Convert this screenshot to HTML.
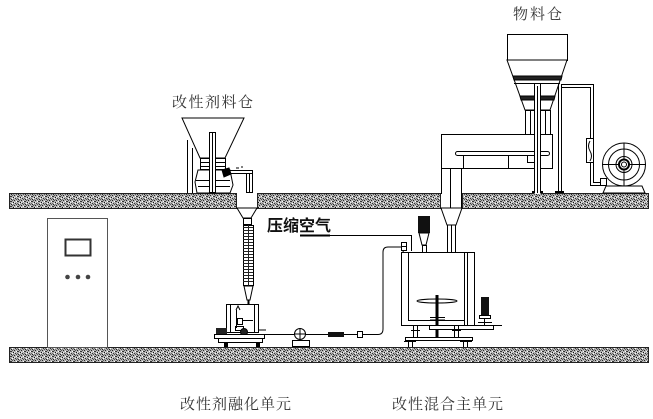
<!DOCTYPE html>
<html><head><meta charset="utf-8"><style>
html,body{margin:0;padding:0;background:#fff;}
svg{display:block;}
</style></head><body>
<svg width="653" height="419" viewBox="0 0 653 419" xmlns="http://www.w3.org/2000/svg">
<defs>
<pattern id="sp" width="7" height="5" patternUnits="userSpaceOnUse">
<rect width="7" height="5" fill="#b4b4b4"/>
<rect x="0" y="0" width="1" height="1" fill="#222"/>
<rect x="3" y="1" width="2" height="1" fill="#333"/>
<rect x="6" y="2" width="1" height="1" fill="#111"/>
<rect x="1" y="3" width="1" height="1" fill="#333"/>
<rect x="4" y="4" width="1" height="1" fill="#222"/>
<rect x="2" y="1" width="1" height="1" fill="#fff"/>
<rect x="5" y="3" width="1" height="1" fill="#fff"/>
<rect x="0" y="2" width="1" height="1" fill="#eee"/>
<rect x="2" y="4" width="1" height="1" fill="#555"/>
<rect x="5" y="0" width="1" height="1" fill="#555"/>
<rect x="3" y="3" width="1" height="1" fill="#666"/>
<rect x="6" y="4" width="1" height="1" fill="#777"/>
</pattern>
</defs>

<!-- slabs -->
<g stroke="#222" stroke-width="1" fill="url(#sp)">
<rect x="9.5" y="193.5" width="227" height="15"/>
<rect x="257.5" y="193.5" width="183" height="15"/>
<rect x="462.5" y="193.5" width="186" height="15"/>
<rect x="9.5" y="347.5" width="639" height="15"/>
</g>

<!-- texts -->
<g font-family="'Liberation Serif','Noto Serif CJK SC',serif" font-size="15" fill="#333">
<text x="513" y="19" letter-spacing="2">物料仓</text>
<text x="172" y="107" letter-spacing="1.5">改性剂料仓</text>
<text x="180" y="409" letter-spacing="1">改性剂融化单元</text>
<text x="392" y="409" letter-spacing="1">改性混合主单元</text>
</g>
<text x="267" y="231" font-family="'Liberation Sans','Noto Sans CJK SC',sans-serif" font-weight="bold" font-size="16" fill="#111">压缩空气</text>

<!-- cabinet -->
<rect x="47.5" y="218.5" width="60" height="129" fill="#fff" stroke="#555" stroke-width="1"/>
<rect x="65.5" y="239.5" width="25" height="16" fill="#fff" stroke="#333" stroke-width="2"/>
<g fill="#444"><circle cx="67.5" cy="277" r="2.3"/><circle cx="78" cy="277" r="2.3"/><circle cx="88" cy="277" r="2.3"/></g>

<g stroke="#000" stroke-width="1" fill="none">
<!-- additive hopper -->
<polygon points="182,118 244,118 225,158 200,158" fill="#fff"/>
<line x1="187.5" y1="140" x2="187.5" y2="193"/>
<line x1="192.5" y1="148" x2="192.5" y2="193"/>
<rect x="200.5" y="158.5" width="25" height="11" fill="#fff"/>
<line x1="200" y1="162.5" x2="225" y2="162.5"/>
<line x1="200" y1="166.5" x2="225" y2="166.5"/>
<polygon points="198,170 230,170 233,185 230,193 197,193 195,182" fill="#fff"/>
<line x1="196" y1="180.5" x2="230" y2="180.5"/>
<line x1="198" y1="186.5" x2="230" y2="186.5"/>
<rect x="209.5" y="132.5" width="6" height="60" fill="#fff"/>
<line x1="212.5" y1="133" x2="212.5" y2="192"/>
<rect x="225.5" y="170.5" width="27" height="3" fill="#fff"/>
<rect x="246.5" y="173.5" width="6" height="19" fill="#fff"/>
<line x1="249.5" y1="174" x2="249.5" y2="193"/>
<path d="M222,170 L229,168 L231,174 L224,177 Z" fill="#000"/>
<path d="M236,168 l3,0 M241,167 l2,0" />

<!-- pipe below additive hopper -->
<polygon points="237,208 257,208 251,218 243,218" fill="#fff"/>
<rect x="243.5" y="218.5" width="8" height="6" fill="#fff"/>
<rect x="243.5" y="225.5" width="10" height="60" fill="#fff"/>
</g>
<g stroke="#222" stroke-width="1">
<line x1="243" y1="227.5" x2="253" y2="227.5"/><line x1="243" y1="230.5" x2="253" y2="230.5"/><line x1="243" y1="233.5" x2="253" y2="233.5"/><line x1="243" y1="236.5" x2="253" y2="236.5"/><line x1="243" y1="239.5" x2="253" y2="239.5"/><line x1="243" y1="242.5" x2="253" y2="242.5"/><line x1="243" y1="245.5" x2="253" y2="245.5"/><line x1="243" y1="248.5" x2="253" y2="248.5"/><line x1="243" y1="251.5" x2="253" y2="251.5"/><line x1="243" y1="254.5" x2="253" y2="254.5"/><line x1="243" y1="257.5" x2="253" y2="257.5"/><line x1="243" y1="260.5" x2="253" y2="260.5"/><line x1="243" y1="263.5" x2="253" y2="263.5"/><line x1="243" y1="266.5" x2="253" y2="266.5"/><line x1="243" y1="269.5" x2="253" y2="269.5"/><line x1="243" y1="272.5" x2="253" y2="272.5"/><line x1="243" y1="275.5" x2="253" y2="275.5"/><line x1="243" y1="278.5" x2="253" y2="278.5"/><line x1="243" y1="281.5" x2="253" y2="281.5"/>
<line x1="248.5" y1="225" x2="248.5" y2="286"/>
</g>
<g stroke="#000" stroke-width="1" fill="none">
<polygon points="244,286 253,286 250,300 247,300" fill="#fff"/>
<line x1="248.5" y1="300" x2="248.5" y2="320" stroke-width="2"/>

<!-- melting unit -->
<rect x="226.5" y="304.5" width="32" height="28" fill="#fff"/>
<line x1="230.5" y1="305" x2="230.5" y2="332"/>
<line x1="254.5" y1="305" x2="254.5" y2="332"/>
<line x1="236.5" y1="310" x2="236.5" y2="328"/>
<line x1="243" y1="320.5" x2="253" y2="320.5"/>
<rect x="237.5" y="318.5" width="5" height="6"/>
<rect x="235.5" y="326.5" width="8" height="4"/>
<path d="M236,310 l2,-4 l2,4" />
<rect x="216" y="328" width="11" height="7" fill="#222" stroke="none"/>
<circle cx="244" cy="332" r="3.5" fill="#222"/>
<rect x="214.5" y="334.5" width="50" height="4" fill="#fff"/>
<rect x="218.5" y="338.5" width="44" height="4" fill="#fff"/>
<rect x="224" y="342" width="4" height="5" fill="#000" stroke="none"/>
<rect x="256" y="342" width="4" height="5" fill="#000" stroke="none"/>
<line x1="258" y1="330" x2="266" y2="330"/>

<!-- pump line -->
<line x1="262" y1="334.5" x2="328" y2="334.5"/>
<line x1="344" y1="334.5" x2="357" y2="334.5"/>
<path d="M363,334.5 L378,334.5 Q383,334.5 383,329 L383,252 Q383,247 388,247 L401,247"/>
<circle cx="300" cy="334" r="5.5" fill="#fff"/>
<line x1="300" y1="328" x2="300" y2="340"/>
<line x1="294" y1="334" x2="306" y2="334"/>
<rect x="292.5" y="340.5" width="17" height="6" fill="#fff"/>
<rect x="328" y="332" width="16" height="5" fill="#111" stroke="none"/>
<rect x="357.5" y="331.5" width="5" height="6" fill="#fff"/>
<rect x="401.5" y="242.5" width="5" height="8" fill="#fff"/>
<line x1="402" y1="246.5" x2="406" y2="246.5"/>
<path d="M403,250 q0,5 4,6"/>

<!-- compressed air line -->
<line x1="300" y1="235.5" x2="330" y2="235.5" stroke-width="2"/>
<line x1="330" y1="235.5" x2="411.5" y2="235.5"/>
<line x1="411.5" y1="235" x2="411.5" y2="251"/>

<!-- mixer -->
<rect x="401.5" y="252.5" width="73" height="73" fill="#fff"/>
<line x1="408.5" y1="253" x2="408.5" y2="320"/>
<line x1="408" y1="320.5" x2="465" y2="320.5"/>
<line x1="464.5" y1="253" x2="464.5" y2="325"/>
<line x1="467.5" y1="253" x2="467.5" y2="325"/>
<ellipse cx="437" cy="301" rx="20" ry="2"/>
<rect x="435.5" y="295" width="3" height="42" fill="#000" stroke="none"/>
<line x1="430" y1="317.5" x2="445" y2="317.5"/>
<line x1="430" y1="320" x2="445" y2="320"/>
<rect x="429.5" y="325.5" width="64" height="4" fill="#fff"/>
<line x1="474" y1="325.5" x2="502" y2="325.5"/>
<rect x="481" y="297" width="8" height="18" fill="#111" stroke="none"/>
<rect x="479.5" y="315.5" width="11" height="3" fill="#fff"/>
<line x1="484.5" y1="318" x2="484.5" y2="326"/>
<line x1="478" y1="322.5" x2="492" y2="322.5"/>
<!-- legs -->
<line x1="413.5" y1="326" x2="413.5" y2="338"/><line x1="417.5" y1="326" x2="417.5" y2="338"/>
<line x1="454.5" y1="326" x2="454.5" y2="338"/><line x1="458.5" y1="326" x2="458.5" y2="338"/>
<line x1="411" y1="330.5" x2="420" y2="330.5"/><line x1="452" y1="330.5" x2="461" y2="330.5"/>
<rect x="405.5" y="337.5" width="67" height="3" fill="#fff"/>
<line x1="408.5" y1="341" x2="408.5" y2="347"/><line x1="412.5" y1="341" x2="412.5" y2="347"/>
<line x1="463.5" y1="341" x2="463.5" y2="347"/><line x1="467.5" y1="341" x2="467.5" y2="347"/>
<line x1="404" y1="341.5" x2="416" y2="341.5"/><line x1="460" y1="341.5" x2="472" y2="341.5"/>
<!-- top motor -->
<rect x="418" y="216" width="12" height="17" fill="#111" stroke="none"/>
<polygon points="419,233 429,233 426,245 422,245" fill="#fff"/>
<rect x="422.5" y="245.5" width="4" height="7" fill="#fff"/>
<!-- cyclone -->
<polygon points="441,208 462,208 456,225 447,225" fill="#fff"/>
<line x1="447.5" y1="225" x2="447.5" y2="252"/>
<line x1="451.5" y1="225" x2="451.5" y2="252"/>
<line x1="455.5" y1="225" x2="455.5" y2="252"/>

<!-- material silo -->
<rect x="507.5" y="34.5" width="60" height="26" fill="#fff"/>
<polygon points="507,60 567,60 550,110 525,110" fill="#fff"/>
<polygon points="513,76 562,76 561,80 514,80" fill="#222"/>
<polygon points="520,96 555,96 554,100 521,100" fill="#222"/>
<line x1="514" y1="83.5" x2="560" y2="83.5"/>
<rect x="525.5" y="110.5" width="25" height="24" fill="#fff"/>
<line x1="530.5" y1="111" x2="530.5" y2="134"/>
<line x1="545.5" y1="111" x2="545.5" y2="134"/>
<rect x="534.5" y="83.5" width="6" height="110" fill="#fff"/>
<line x1="537.5" y1="86" x2="537.5" y2="193"/>
<line x1="532" y1="192" x2="543" y2="192" stroke-width="2"/>
<line x1="558.5" y1="84" x2="558.5" y2="193"/>
<line x1="561.5" y1="84" x2="561.5" y2="193"/>
<line x1="555" y1="192" x2="564" y2="192" stroke-width="2"/>
<path d="M561,84.5 L593.5,84.5 L593.5,182.5 L604,182.5"/>
<path d="M562,87.5 L590.5,87.5 L590.5,185.5 L604,185.5"/>
<rect x="586.5" y="138.5" width="7" height="24" fill="#fff"/>
<path d="M590,141 q-3,5 0,10 q3,5 0,10"/>

<!-- conveyor frame -->
<rect x="441.5" y="134.5" width="111" height="34" fill="#fff"/>
<line x1="441.5" y1="168" x2="441.5" y2="194"/>
<line x1="450.5" y1="168" x2="450.5" y2="208"/>
<line x1="461.5" y1="168" x2="461.5" y2="208"/>
<rect x="455.5" y="151.5" width="94" height="4" rx="2" fill="#fff"/>
<line x1="463.5" y1="156" x2="463.5" y2="168"/>
<line x1="508.5" y1="156" x2="508.5" y2="168"/>
<rect x="527.5" y="155.5" width="13" height="7" fill="#fff"/>
<rect x="534.5" y="134" width="6" height="60" fill="#fff" stroke="none"/>
<line x1="534.5" y1="134" x2="534.5" y2="193"/>
<line x1="540.5" y1="134" x2="540.5" y2="193"/>
<line x1="537.5" y1="134" x2="537.5" y2="193"/>

<!-- fan -->
<circle cx="624" cy="164.5" r="21.5" fill="#fff"/>
<circle cx="624" cy="164.5" r="15.5"/>
<circle cx="624" cy="164.5" r="8"/>
<circle cx="624" cy="164.5" r="5" stroke-width="2"/>
<circle cx="624" cy="164.5" r="2.5"/>
<line x1="602" y1="164.5" x2="619" y2="164.5"/>
<line x1="629" y1="164.5" x2="646" y2="164.5"/>
<line x1="624" y1="143" x2="624" y2="159"/>
<line x1="624" y1="170" x2="624" y2="186"/>
<rect x="600.5" y="178.5" width="6" height="7" fill="#fff"/>
<polygon points="606,186 642,186 645,193 603,193" fill="#fff"/>
</g>
</svg>
</body></html>
